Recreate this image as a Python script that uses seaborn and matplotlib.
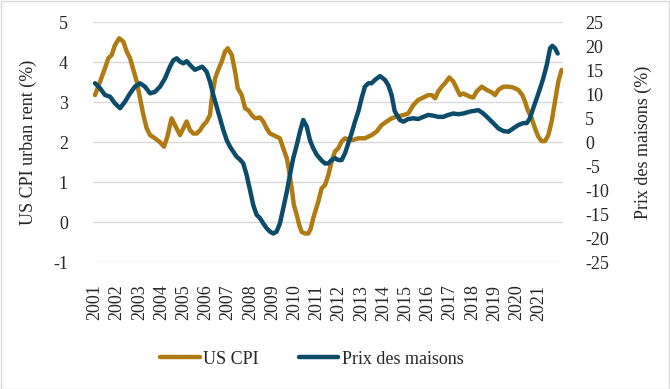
import numpy as np
import pandas as pd
import matplotlib
matplotlib.use("Agg")
import matplotlib.pyplot as plt
import seaborn as sns
from matplotlib.patches import Rectangle

# ---- data ----
cpi_t = [2001.00, 2001.23, 2001.45, 2001.60, 2001.75, 2001.90, 2002.09, 2002.27, 2002.43, 2002.58,
         2002.73, 2002.88, 2003.03, 2003.18, 2003.33, 2003.48, 2003.70, 2003.93, 2004.11, 2004.26,
         2004.45, 2004.60, 2004.83, 2004.98, 2005.13, 2005.28, 2005.43, 2005.58, 2005.73, 2005.88,
         2006.03, 2006.18, 2006.26, 2006.41, 2006.55, 2006.71, 2006.86, 2006.98, 2007.16, 2007.31,
         2007.43, 2007.61, 2007.76, 2007.91, 2008.06, 2008.21, 2008.43, 2008.58, 2008.73, 2008.88,
         2009.03, 2009.18, 2009.33, 2009.48, 2009.64, 2009.75, 2009.86, 2009.96, 2010.09, 2010.20,
         2010.31, 2010.46, 2010.61, 2010.72, 2010.83, 2010.91, 2011.06, 2011.21, 2011.36, 2011.51,
         2011.66, 2011.81, 2011.96, 2012.11, 2012.26, 2012.41, 2012.64, 2012.86, 2013.16, 2013.46,
         2013.69, 2013.91, 2014.14, 2014.36, 2014.59, 2014.89, 2015.11, 2015.34, 2015.56, 2015.79,
         2016.01, 2016.17, 2016.32, 2016.46, 2016.62, 2016.77, 2016.96, 2017.14, 2017.29, 2017.44,
         2017.59, 2017.74, 2017.89, 2018.04, 2018.19, 2018.42, 2018.64, 2018.87, 2019.02, 2019.17,
         2019.39, 2019.62, 2019.84, 2020.07, 2020.25, 2020.37, 2020.49, 2020.67, 2020.82, 2020.97,
         2021.12, 2021.27, 2021.42, 2021.57, 2021.72, 2021.87, 2022.02]
cpi_v = [3.18, 3.52, 3.85, 4.10, 4.18, 4.43, 4.60, 4.52, 4.27, 4.10,
         3.81, 3.52, 3.10, 2.68, 2.35, 2.18, 2.10, 2.00, 1.89, 2.14,
         2.60, 2.43, 2.18, 2.35, 2.52, 2.30, 2.22, 2.22, 2.30, 2.43,
         2.52, 2.68, 3.10, 3.60, 3.81, 4.02, 4.27, 4.35, 4.18, 3.77,
         3.35, 3.18, 2.85, 2.80, 2.68, 2.60, 2.62, 2.52, 2.35, 2.22,
         2.18, 2.14, 2.10, 1.85, 1.60, 1.27, 0.85, 0.43, 0.18, -0.07,
         -0.24, -0.28, -0.28, -0.15, 0.10, 0.25, 0.52, 0.85, 0.93, 1.18,
         1.52, 1.77, 1.85, 2.02, 2.10, 2.06, 2.06, 2.10, 2.10, 2.18,
         2.27, 2.43, 2.52, 2.60, 2.64, 2.68, 2.72, 2.93, 3.06, 3.12,
         3.18, 3.18, 3.10, 3.27, 3.39, 3.48, 3.62, 3.52, 3.35, 3.18,
         3.22, 3.18, 3.14, 3.12, 3.27, 3.39, 3.31, 3.25, 3.18, 3.31,
         3.39, 3.39, 3.37, 3.31, 3.18, 3.02, 2.81, 2.60, 2.35, 2.14,
         2.03, 2.03, 2.18, 2.52, 3.02, 3.52, 3.81]

house_t = [2001.00, 2001.23, 2001.45, 2001.68, 2001.90, 2002.13, 2002.35, 2002.58, 2002.80, 2003.03,
           2003.25, 2003.48, 2003.70, 2003.93, 2004.15, 2004.38, 2004.53, 2004.68, 2004.83, 2004.98,
           2005.13, 2005.28, 2005.50, 2005.65, 2005.83, 2006.03, 2006.18, 2006.33, 2006.48, 2006.63,
           2006.78, 2006.93, 2007.08, 2007.23, 2007.38, 2007.53, 2007.68, 2007.83, 2007.98, 2008.13,
           2008.28, 2008.43, 2008.58, 2008.73, 2008.88, 2009.03, 2009.18, 2009.33, 2009.48, 2009.64,
           2009.78, 2009.93, 2010.09, 2010.23, 2010.38, 2010.54, 2010.68, 2010.83, 2010.99, 2011.21,
           2011.36, 2011.51, 2011.66, 2011.81, 2011.96, 2012.11, 2012.26, 2012.41, 2012.56, 2012.71,
           2012.86, 2013.01, 2013.16, 2013.31, 2013.46, 2013.61, 2013.84, 2014.06, 2014.21, 2014.36,
           2014.50, 2014.73, 2014.89, 2015.11, 2015.34, 2015.56, 2015.79, 2016.01, 2016.24, 2016.46,
           2016.69, 2016.91, 2017.14, 2017.36, 2017.59, 2017.89, 2018.27, 2018.49, 2018.72, 2018.94,
           2019.17, 2019.39, 2019.62, 2019.84, 2020.07, 2020.29, 2020.45, 2020.59, 2020.74, 2020.90,
           2021.05, 2021.19, 2021.35, 2021.50, 2021.60, 2021.72, 2021.84]
house_v = [12.3, 11.25, 9.85, 9.5, 8.1, 7.1, 8.45, 10.2, 11.6, 12.3,
           11.6, 10.2, 10.5, 11.6, 13.3, 15.8, 17.1, 17.5, 16.8, 16.45,
           16.9, 16.1, 15.1, 15.4, 15.75, 14.7, 12.6, 9.85, 7.4, 5.0,
           2.56, 0.48, -0.9, -1.96, -3.0, -3.6, -4.4, -6.8, -9.9, -13.1,
           -15.1, -15.8, -16.9, -17.9, -18.6, -19.0, -18.6, -16.9, -13.75, -10.3,
           -6.8, -3.3, -0.56, 2.2, 4.65, 3.25, 0.48, -1.25, -2.6, -3.8,
           -4.4, -4.4, -3.7, -3.3, -3.7, -3.7, -2.3, -0.2, 1.9, 4.3,
           6.4, 9.2, 11.6, 12.3, 12.3, 13.0, 13.8, 13.0, 11.9, 9.85,
           6.5, 4.65, 4.3, 4.85, 5.0, 4.85, 5.3, 5.7, 5.55, 5.3,
           5.3, 5.7, 6.0, 5.85, 6.0, 6.4, 6.7, 6.0, 5.0, 4.0,
           2.9, 2.35, 2.2, 2.9, 3.6, 4.0, 4.0, 5.0, 7.1, 9.2,
           11.25, 13.3, 16.1, 19.6, 20.1, 19.6, 18.5]

year_ticks = list(range(2001, 2022))
year_labels = [str(y) for y in year_ticks]
left_ticks = [-1, 0, 1, 2, 3, 4, 5]
right_ticks = [-25, -20, -15, -10, -5, 0, 5, 10, 15, 20, 25]

cpi_label = "US CPI"
house_label = "Prix des maisons"
left_title = "US CPI urban rent (%)"
right_title = "Prix des maisons (%)"

GOLD = "#B07B12"
BLUE = "#0C4C6B"

sns.set_style("white")
plt.rcParams["font.family"] = ["Liberation Serif", "DejaVu Serif"]
FS = 13

df_cpi = pd.DataFrame({"t": cpi_t, "v": cpi_v})
df_house = pd.DataFrame({"t": house_t, "v": house_v})

fig = plt.figure(figsize=(6.70, 3.89), dpi=100)
ax = fig.add_axes([93 / 670, 1 - 262.3 / 389, 470 / 670, 240 / 389])
ax2 = ax.twinx()

sns.lineplot(data=df_cpi, x="t", y="v", ax=ax, color=GOLD, linewidth=3.2,
             label=cpi_label, legend=False, sort=True)
sns.lineplot(data=df_house, x="t", y="v", ax=ax2, color=BLUE, linewidth=3.2,
             label=house_label, legend=False, sort=True)

x0 = 2001 - 2 / 22.2
x1 = 2001 + 468 / 22.2
ax.set_xlim(x0, x1)
ax.set_ylim(-1, 5)
ax2.set_ylim(-25, 25)

ax.set_yticks(left_ticks)
ax.set_yticklabels([str(v) for v in left_ticks], fontsize=FS)
ax2.set_yticks(right_ticks)
ax2.set_yticklabels([str(v) for v in right_ticks], fontsize=FS)
ax.set_xticks(year_ticks)
ax.set_xticklabels(year_labels, rotation=90, fontsize=FS)

ax.tick_params(axis="x", length=0, pad=16)
ax.tick_params(axis="y", length=0, pad=18)
ax2.tick_params(axis="y", length=0, pad=16)

ax.grid(axis="y", color="#D9D9D9", linewidth=1.0)
ax.grid(axis="x", visible=False)
ax2.grid(False)
ax.set_axisbelow(True)
for a in (ax, ax2):
    for s in a.spines.values():
        s.set_visible(False)

ax.set_xlabel("")
ax.set_ylabel(left_title, fontsize=FS)
ax2.set_ylabel(right_title, fontsize=FS, rotation=90)
ax.yaxis.set_label_coords((37 - 93) / 470, 0.5)
ax2.yaxis.set_label_coords((635 - 93) / 470, 0.5)

h1, l1 = ax.get_legend_handles_labels()
h2, l2 = ax2.get_legend_handles_labels()
leg = fig.legend(h1 + h2, l1 + l2, loc="center left",
                 bbox_to_anchor=(160 / 670, 1 - 359 / 389),
                 ncol=2, frameon=False, fontsize=FS, handlelength=2.2,
                 handletextpad=0.2, columnspacing=2.2, borderpad=0.0,
                 borderaxespad=0.0)
for ln in leg.get_lines():
    ln.set_linewidth(3.2)

fig.patches.append(Rectangle((0.001, 0.001), 0.997, 0.997, transform=fig.transFigure,
                             fill=False, edgecolor="#D9D9D9", linewidth=1.0))

fig.savefig("out.png", dpi=100)
